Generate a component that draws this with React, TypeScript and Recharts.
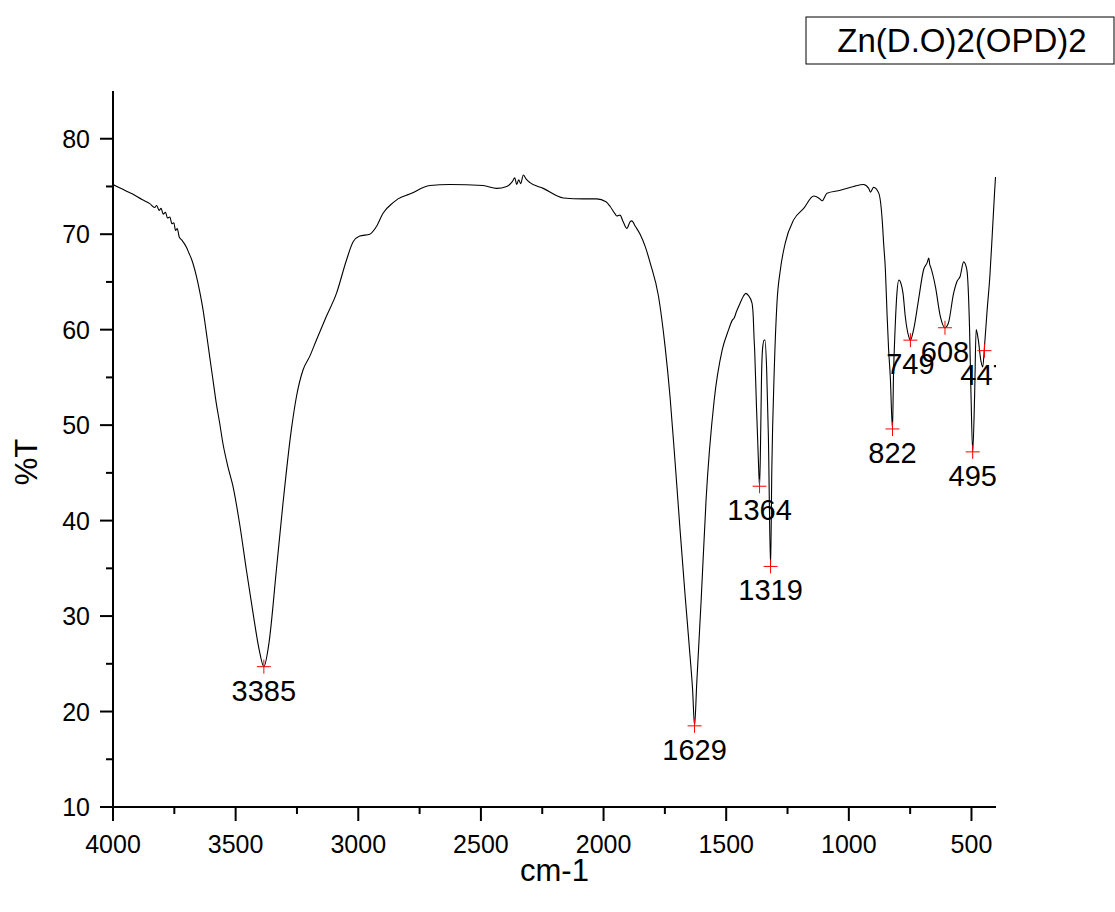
import React from 'react';
import { ComposedChart, Line, Scatter, XAxis, YAxis, Customized } from 'recharts';

// ---- data ----
const wavenumbers = [
  4000, 3960, 3920, 3880, 3850, 3830, 3822, 3812, 3804, 3795, 3786, 3778, 3768, 3760, 3752, 3745, 3738, 3730,
  3720, 3700, 3690, 3680, 3660, 3645, 3633, 3620, 3606, 3590, 3579, 3565, 3552, 3530, 3511, 3484, 3456, 3429,
  3405, 3385, 3364, 3334, 3307, 3273, 3252, 3225, 3198, 3171, 3130, 3089, 3048, 3021, 2994, 2953, 2926, 2899,
  2858, 2838, 2790, 2708, 2627, 2491, 2436, 2395, 2372, 2362, 2354, 2346, 2338, 2327, 2316, 2300, 2246, 2164,
  2082, 2028, 1990, 1973, 1955, 1946, 1933, 1920, 1905, 1892, 1885, 1870, 1851, 1830, 1810, 1776, 1749, 1729,
  1708, 1688, 1667, 1647, 1637, 1629, 1620, 1602, 1582, 1549, 1516, 1490, 1475, 1468, 1458, 1443, 1430, 1420,
  1410, 1395, 1390, 1386, 1384, 1377, 1369, 1364, 1360, 1356, 1351, 1345, 1342, 1335, 1328, 1319, 1314, 1304,
  1293, 1279, 1259, 1225, 1184, 1143, 1123, 1109, 1089, 1035, 980, 940, 919, 912, 899, 878, 864, 858, 851, 844,
  838, 831, 822, 818, 811, 804, 796, 787, 779, 770, 756, 749, 736, 716, 695, 681, 674, 670, 667, 647, 627, 608,
  594, 573, 560, 546, 532, 519, 508, 502, 495, 487, 481, 472, 462, 454, 447, 436, 425, 415, 406, 402,
];
const transmittance = [
  75.2, 74.7, 74.2, 73.6, 73.2, 72.8, 73.0, 72.5, 72.7, 72.1, 72.3, 71.7, 71.8, 71.1, 71.2, 70.4, 70.6, 69.7,
  69.4, 68.6, 68.0, 67.4, 65.6, 63.8, 62.1, 59.8, 57.2, 54.3, 52.3, 50.2, 48.1, 45.5, 43.6, 39.7, 34.8, 30.3,
  26.6, 24.7, 27.2, 34.8, 41.8, 49.5, 53.0, 55.8, 57.2, 58.9, 61.4, 63.8, 67.3, 69.2, 69.8, 70.0, 70.8, 72.2,
  73.3, 73.7, 74.2, 75.1, 75.2, 75.1, 74.8, 75.0, 75.5, 75.9, 75.2, 75.7, 75.3, 76.2, 75.8, 75.4, 74.8, 73.8,
  73.7, 73.7, 73.4, 72.9, 72.2, 71.9, 72.0, 71.3, 70.6, 71.3, 71.4, 70.8, 70.0, 68.7, 67.0, 63.5, 58.2, 53.0,
  46.0, 39.0, 32.0, 25.7, 22.3, 18.5, 23.0, 31.7, 42.2, 52.6, 57.9, 60.0, 61.0, 61.2, 61.9, 62.8, 63.5, 63.8,
  63.6, 62.8, 61.5, 58.9, 57.9, 52.3, 46.5, 43.6, 48.0, 55.0, 58.2, 58.9, 58.9, 55.8, 48.8, 35.2, 45.3, 55.8,
  62.8, 66.3, 69.1, 71.5, 72.7, 74.0, 73.8, 73.5, 74.3, 74.6, 75.0, 75.2, 74.8, 74.4, 74.9, 74.3, 71.5, 69.0, 66.3, 61.5,
  58.0, 55.1, 49.6, 55.1, 60.3, 63.8, 65.2, 64.8, 63.8, 61.4, 59.3, 58.9, 60.0, 63.1, 66.3, 67.0, 67.5, 66.8, 66.6, 64.5, 61.4, 60.2,
  60.7, 63.8, 65.0, 65.6, 67.1, 66.3, 60.3, 53.3, 47.2, 53.3, 60.0, 58.9, 56.8, 56.1, 58.2, 62.1, 65.6, 70.1, 74.3, 76.0,
];
const peakWavenumbers = [3385, 1629, 1364, 1319, 822, 749, 608, 495, 447];
const peakTransmittance = [24.7, 18.5, 43.6, 35.2, 49.6, 58.9, 60.2, 47.2, 57.8];
const peakLabels = ['3385', '1629', '1364', '1319', '822', '749', '608', '495', '447'];
const xTicks = [500, 750, 1000, 1250, 1500, 1750, 2000, 2250, 2500, 2750, 3000, 3250, 3500, 3750, 4000];
const yTicks = [10, 15, 20, 25, 30, 35, 40, 45, 50, 55, 60, 65, 70, 75, 80];
const seriesName = 'Zn(D.O)2(OPD)2';
const xTitle = 'cm-1';
const yTitle = '%T';

const spectrum = wavenumbers.map((wn, i) => ({ wn, t: transmittance[i] }));
const peaks = peakWavenumbers.map((wn, i) => ({ wn, t: peakTransmittance[i], label: peakLabels[i] }));

// ---- layout ----
const W = 1115;
const H = 912;
const PLOT_LEFT = 113;
const PLOT_TOP = 91;
const PLOT_RIGHT = 996;
const PLOT_BOTTOM = 807;
const Y_AXIS_W = 60;
const X_AXIS_H = 60;
const FONT = '"Liberation Sans", Arial, sans-serif';

const XTick = (props: any) => {
  const { x, y, payload } = props;
  const major = payload.value % 500 === 0;
  return (
    <g>
      <line x1={x} x2={x} y1={y} y2={y + (major ? 14 : 7)} stroke="#000" strokeWidth={2} />
      {major && (
        <text x={x} y={y + 46} textAnchor="middle" fontSize={25} fontFamily={FONT} fill="#000">
          {payload.value}
        </text>
      )}
    </g>
  );
};

const YTick = (props: any) => {
  const { x, y, payload } = props;
  const major = payload.value % 10 === 0;
  return (
    <g>
      <line x1={x - (major ? 13 : 7)} x2={x} y1={y} y2={y} stroke="#000" strokeWidth={2} />
      {major && (
        <text x={x - 23} y={y + 9} textAnchor="end" fontSize={25} fontFamily={FONT} fill="#000">
          {payload.value}
        </text>
      )}
    </g>
  );
};

const PeakShape = (props: any) => {
  const { cx, cy, payload } = props;
  if (cx == null || cy == null) return null;
  return (
    <g>
      <path d={`M${cx - 7},${cy}h14M${cx},${cy - 7}v14`} stroke="#ff0000" strokeWidth={1} fill="none" />
      <svg x={PLOT_LEFT} y={PLOT_TOP} width={PLOT_RIGHT - PLOT_LEFT} height={PLOT_BOTTOM - PLOT_TOP} overflow="hidden">
        <text x={cx - PLOT_LEFT} y={cy - PLOT_TOP + 34} textAnchor="middle" fontSize={29} fontFamily={FONT} fill="#000">
          {payload.label}
        </text>
      </svg>
    </g>
  );
};

const Extras = () => (
  <g>
    <rect x={806} y={17} width={308} height={47} fill="#fff" stroke="#000" strokeWidth={1} />
    <text x={962} y={52} textAnchor="middle" fontSize={33} fontFamily={FONT} fill="#000">
      {seriesName}
    </text>
    <text
      x={0}
      y={0}
      transform={`translate(37, 462) rotate(-90)`}
      textAnchor="middle"
      fontSize={31}
      fontFamily={FONT}
      fill="#000"
    >
      {yTitle}
    </text>
    <text x={(PLOT_LEFT + PLOT_RIGHT) / 2} y={881} textAnchor="middle" fontSize={31} fontFamily={FONT} fill="#000">
      {xTitle}
    </text>
  </g>
);

export default function App() {
  return (
    <div style={{ position: 'absolute', left: 0, top: 0, background: '#fff' }}>
      <ComposedChart
        width={W}
        height={H}
        margin={{
          top: PLOT_TOP,
          right: W - PLOT_RIGHT,
          bottom: H - PLOT_BOTTOM - X_AXIS_H,
          left: PLOT_LEFT - Y_AXIS_W,
        }}
      >
        <XAxis
          type="number"
          dataKey="wn"
          domain={[400, 4000]}
          reversed
          ticks={xTicks}
          interval={0}
          height={X_AXIS_H}
          tickSize={0}
          tickMargin={0}
          tickLine={false}
          tick={<XTick />}
          axisLine={{ stroke: '#000', strokeWidth: 2 }}
          allowDataOverflow
        />
        <YAxis
          type="number"
          dataKey="t"
          domain={[10, 85]}
          ticks={yTicks}
          interval={0}
          width={Y_AXIS_W}
          tickSize={0}
          tickMargin={0}
          tickLine={false}
          tick={<YTick />}
          axisLine={{ stroke: '#000', strokeWidth: 2 }}
          allowDataOverflow
        />
        <Line
          data={spectrum}
          dataKey="t"
          type="monotone"
          stroke="#000"
          strokeWidth={1.1}
          dot={false}
          activeDot={false}
          isAnimationActive={false}
        />
        <Scatter data={peaks} dataKey="t" shape={<PeakShape />} isAnimationActive={false} />
        <Customized component={Extras} />
      </ComposedChart>
    </div>
  );
}
